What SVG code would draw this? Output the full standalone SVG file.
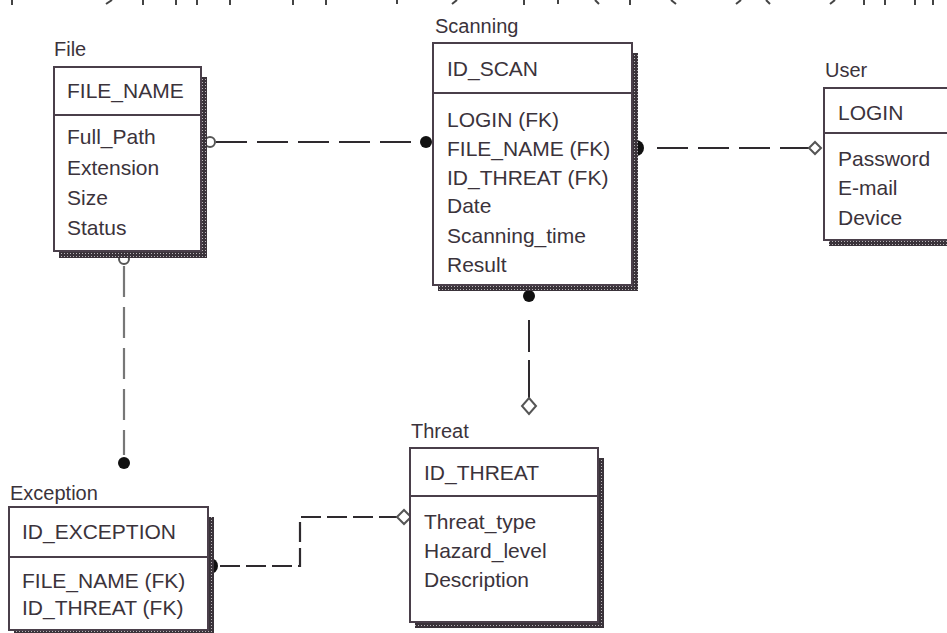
<svg xmlns="http://www.w3.org/2000/svg" width="947" height="633" viewBox="0 0 947 633">
<defs>
<pattern id="dots" width="3" height="3" patternUnits="userSpaceOnUse">
<rect width="3" height="3" fill="#3a333a"/>
<rect x="1" y="1" width="1" height="1" fill="#b8b4b8"/>
</pattern>
<style>
.box{fill:#fff;stroke:#4a3f4a;stroke-width:2}
.div{stroke:#4a3f4a;stroke-width:2}
.sh{fill:url(#dots)}
text{font-family:"Liberation Sans",Arial,sans-serif;font-size:21px;fill:#3b333b}
.lbl{font-size:20px}
.con{fill:none;stroke:#2e2a2e;stroke-width:2.2;stroke-dasharray:31 10}
.solid{fill:none;stroke:#2e2a2e;stroke-width:2}
.hol{fill:#fff;stroke:#555;stroke-width:2}
.fil{fill:#111}
.tick{stroke:#444;stroke-width:2}
</style>
</defs>
<rect width="947" height="633" fill="#fff"/>
<g id="ticks">
<line class="tick" x1="12" y1="0" x2="12" y2="5"/>
<line class="tick" x1="112" y1="0" x2="106" y2="4"/>
<line class="tick" x1="143" y1="0" x2="143" y2="5"/>
<line class="tick" x1="176" y1="0" x2="176" y2="5"/>
<line class="tick" x1="197" y1="0" x2="197" y2="5"/>
<line class="tick" x1="230" y1="0" x2="230" y2="5"/>
<line class="tick" x1="293" y1="0" x2="293" y2="5"/>
<line class="tick" x1="326" y1="0" x2="326" y2="5"/>
<line class="tick" x1="397" y1="0" x2="397" y2="4"/>
<line class="tick" x1="457" y1="0" x2="452" y2="4"/>
<line class="tick" x1="524" y1="0" x2="524" y2="5"/>
<line class="tick" x1="558" y1="0" x2="558" y2="4"/>
<line class="tick" x1="595" y1="0" x2="599" y2="4"/>
<line class="tick" x1="630" y1="0" x2="630" y2="5"/>
<line class="tick" x1="671" y1="0" x2="676" y2="4"/>
<line class="tick" x1="741" y1="0" x2="736" y2="4"/>
<line class="tick" x1="766" y1="0" x2="770" y2="4"/>
<line class="tick" x1="835" y1="0" x2="830" y2="4"/>
<line class="tick" x1="864" y1="0" x2="864" y2="5"/>
<line class="tick" x1="885" y1="0" x2="885" y2="5"/>
<line class="tick" x1="915" y1="0" x2="915" y2="5"/>
<line class="tick" x1="933" y1="0" x2="933" y2="5"/>
</g>
<g id="connectors">
<line class="con" x1="216" y1="142" x2="420" y2="142"/>
<circle class="hol" cx="210" cy="142" r="5"/>
<circle class="fil" cx="426" cy="142" r="6"/>
<line class="con" x1="657" y1="148" x2="810" y2="148"/>
<path class="fil" d="M636,140 A8,8 0 0 1 636,156 Z"/>
<path class="hol" d="M809,148 L815,142 L821,148 L815,154 Z"/>
<circle class="fil" cx="529" cy="296" r="6"/>
<line class="solid" x1="529" y1="320" x2="529" y2="352"/>
<line class="solid" x1="529" y1="360" x2="529" y2="398" stroke="#777"/>
<path class="hol" d="M529,398 L536,406 L529,414 L522,406 Z"/>
<line class="con" x1="124" y1="266" x2="124" y2="455" style="stroke:#777"/>
<circle class="hol" cx="124" cy="259" r="5"/>
<circle class="fil" cx="124" cy="463" r="6"/>
<path class="con" d="M220,566 L300,566 L300,517 L397,517" style="stroke-dasharray:20 6"/>
<path class="fil" d="M210,558 A8,8 0 0 1 210,574 Z"/>
<path class="hol" d="M397,517 L404,510 L411,517 L404,524 Z"/>
</g>
<g id="file">
<rect class="sh" x="59" y="77" width="148" height="181"/>
<rect class="box" x="54" y="67" width="147" height="184"/>
<line class="div" x1="54" y1="115" x2="201" y2="115"/>
<text class="lbl" x="54" y="56">File</text>
<text x="67" y="98">FILE_NAME</text>
<text x="67" y="144">Full_Path</text>
<text x="67" y="175">Extension</text>
<text x="67" y="205">Size</text>
<text x="67" y="235">Status</text>
</g>
<g id="scanning">
<rect class="sh" x="438" y="53" width="200" height="238"/>
<rect class="box" x="433" y="43" width="199" height="242"/>
<line class="div" x1="433" y1="93" x2="632" y2="93"/>
<text class="lbl" x="435" y="33">Scanning</text>
<text x="447" y="76">ID_SCAN</text>
<text x="447" y="127">LOGIN (FK)</text>
<text x="447" y="156">FILE_NAME (FK)</text>
<text x="447" y="185">ID_THREAT (FK)</text>
<text x="447" y="213">Date</text>
<text x="447" y="243">Scanning_time</text>
<text x="447" y="272">Result</text>
</g>
<g id="user">
<rect class="sh" x="829" y="98" width="130" height="148"/>
<rect class="box" x="824" y="88" width="130" height="152"/>
<line class="div" x1="824" y1="133" x2="954" y2="133"/>
<text class="lbl" x="825" y="77">User</text>
<text x="838" y="120">LOGIN</text>
<text x="838" y="166">Password</text>
<text x="838" y="195">E-mail</text>
<text x="838" y="225">Device</text>
</g>
<g id="threat">
<rect class="sh" x="415" y="458" width="189" height="170"/>
<rect class="box" x="410" y="448" width="188" height="174"/>
<line class="div" x1="410" y1="496" x2="598" y2="496"/>
<text class="lbl" x="411" y="438">Threat</text>
<text x="424" y="480">ID_THREAT</text>
<text x="424" y="529">Threat_type</text>
<text x="424" y="558">Hazard_level</text>
<text x="424" y="587">Description</text>
</g>
<g id="exception">
<rect class="sh" x="14" y="517" width="200" height="122"/>
<rect class="box" x="9" y="507" width="199" height="123"/>
<line class="div" x1="9" y1="557" x2="208" y2="557"/>
<text class="lbl" x="10" y="500">Exception</text>
<text x="22" y="539">ID_EXCEPTION</text>
<text x="22" y="588">FILE_NAME (FK)</text>
<text x="22" y="615">ID_THREAT (FK)</text>
</g>
</svg>
